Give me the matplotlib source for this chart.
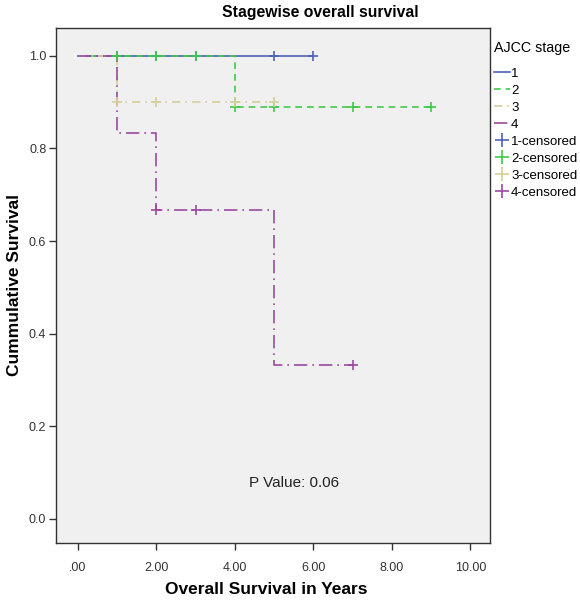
import numpy as np
import matplotlib
matplotlib.use("Agg")
from matplotlib import pyplot as plt
from matplotlib.lines import Line2D

plt.rcParams['font.family'] = ['Liberation Sans', 'DejaVu Sans']

# Kaplan-Meier steps per AJCC stage (time, survival)
stage1_t = [0, 6]
stage1_s = [1.0, 1.0]
stage1_cens_t = [1, 2, 3, 5, 6]
stage1_cens_s = [1.0, 1.0, 1.0, 1.0, 1.0]

stage2_t = [0, 4, 9]
stage2_s = [1.0, 0.889, 0.889]
stage2_cens_t = [1, 2, 3, 4, 5, 7, 9]
stage2_cens_s = [1.0, 1.0, 1.0, 0.889, 0.889, 0.889, 0.889]

stage3_t = [0, 1, 5]
stage3_s = [1.0, 0.9, 0.9]
stage3_cens_t = [1, 2, 4, 5]
stage3_cens_s = [0.9, 0.9, 0.9, 0.9]

stage4_t = [0, 1, 2, 5, 7]
stage4_s = [1.0, 0.833, 0.667, 0.333, 0.333]
stage4_cens_t = [2, 3, 7]
stage4_cens_s = [0.667, 0.667, 0.333]

labels = ['1', '2', '3', '4']
colors = ['#4d62b8', '#3fc94a', '#d6d09a', '#9b4aa0']
styles = ['-', (0, (4, 3)), (0, (5, 3, 1, 3)), (0, (8, 3, 1, 3))]

series = [
    (stage1_t, stage1_s, stage1_cens_t, stage1_cens_s),
    (stage2_t, stage2_s, stage2_cens_t, stage2_cens_s),
    (stage3_t, stage3_s, stage3_cens_t, stage3_cens_s),
    (stage4_t, stage4_s, stage4_cens_t, stage4_cens_s),
]

fig = plt.figure(figsize=(5.8, 6.01), dpi=100)
ax = fig.add_axes([0.0966, 0.0965, 0.748, 0.857])
ax.set_facecolor('#f0f0f0')

for i in range(4):
    t, s, ct, cs = series[i]
    ax.step(t, s, where='post', color=colors[i], linestyle=styles[i], lw=1.2)
for i in range(4):
    t, s, ct, cs = series[i]
    ax.plot(ct, cs, linestyle='none', marker='+', color=colors[i], ms=7, mew=1.2)

ax.set_xlim(-0.56, 10.5)
ax.set_ylim(-0.052, 1.06)
ax.set_xticks([0, 2, 4, 6, 8, 10])
ax.set_xticklabels(['.00', '2.00', '4.00', '6.00', '8.00', '10.00'])
ax.set_yticks([0.0, 0.2, 0.4, 0.6, 0.8, 1.0])
ax.set_yticklabels(['0.0', '0.2', '0.4', '0.6', '0.8', '1.0'])
ax.tick_params(direction='out', length=5, width=1, colors='#333333', labelsize=9, labelcolor='#333333')
ax.tick_params(axis='x', pad=9)
ax.tick_params(axis='y', pad=2)
for sp in ax.spines.values():
    sp.set_color('#333333')
    sp.set_linewidth(1)

fig.text(266 / 580, 1 - 590 / 601, 'Overall Survival in Years', ha='center', va='center',
         fontsize=12.5, fontweight='bold')
fig.text(15 / 580, 1 - 285 / 601, 'Cummulative Survival', ha='center', va='center',
         rotation=90, fontsize=12.5, fontweight='bold')
fig.text(320 / 580, 1 - 13 / 601, 'Stagewise overall survival', ha='center', va='center',
         fontsize=11.3, fontweight='bold')
ax.text(5.5, 0.078, 'P Value: 0.06', ha='center', va='center', fontsize=11, color='#222222')

handles = [Line2D([], [], color=colors[i], linestyle=styles[i], lw=1.2) for i in range(4)]
handles += [Line2D([], [], color=colors[i], linestyle='none', marker='+', ms=10, mew=1.2) for i in range(4)]
names = labels + [l + '-censored' for l in labels]
leg = fig.legend(handles, names, title='AJCC stage', loc='upper left',
                 bbox_to_anchor=(494 / 580, 1 - 41 / 601), frameon=False,
                 fontsize=9.5, title_fontsize=10.3, handlelength=1.2, handletextpad=0.1,
                 labelspacing=0.36, borderaxespad=0, borderpad=0)
leg._legend_box.align = 'left'
leg._legend_box.sep = 9

fig.savefig('out.png', dpi=100, facecolor='white')
